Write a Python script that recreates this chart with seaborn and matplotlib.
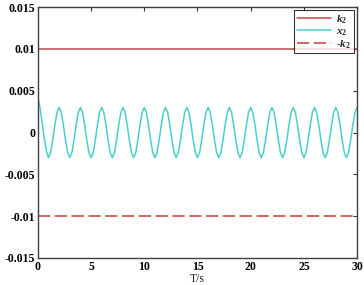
import matplotlib
matplotlib.use('Agg')
import matplotlib.pyplot as plt
import seaborn as sns
import numpy as np
import pandas as pd

sns.set_style("white")
plt.rcParams['font.family'] = ['Liberation Serif', 'DejaVu Serif']
plt.rcParams['mathtext.fontset'] = 'custom'
plt.rcParams['mathtext.it'] = 'Liberation Serif:italic:bold'
plt.rcParams['mathtext.rm'] = 'Liberation Serif:bold'

# time grid, 0.2 s step
t = np.linspace(0, 30, 151)

k2 = 0.01

# x2 values, one row per 2 s cycle
x2 = [
    0.0042, 0.0030, 0.0012, -0.0007, -0.0022, -0.0030, -0.0024, -0.0009, 0.0009, 0.0024,
    0.0030, 0.0024, 0.0009, -0.0009, -0.0024, -0.0030, -0.0024, -0.0009, 0.0009, 0.0024,
    0.0030, 0.0024, 0.0009, -0.0009, -0.0024, -0.0030, -0.0024, -0.0009, 0.0009, 0.0024,
    0.0030, 0.0024, 0.0009, -0.0009, -0.0024, -0.0030, -0.0024, -0.0009, 0.0009, 0.0024,
    0.0030, 0.0024, 0.0009, -0.0009, -0.0024, -0.0030, -0.0024, -0.0009, 0.0009, 0.0024,
    0.0030, 0.0024, 0.0009, -0.0009, -0.0024, -0.0030, -0.0024, -0.0009, 0.0009, 0.0024,
    0.0030, 0.0024, 0.0009, -0.0009, -0.0024, -0.0030, -0.0024, -0.0009, 0.0009, 0.0024,
    0.0030, 0.0024, 0.0009, -0.0009, -0.0024, -0.0030, -0.0024, -0.0009, 0.0009, 0.0024,
    0.0030, 0.0024, 0.0009, -0.0009, -0.0024, -0.0030, -0.0024, -0.0009, 0.0009, 0.0024,
    0.0030, 0.0024, 0.0009, -0.0009, -0.0024, -0.0030, -0.0024, -0.0009, 0.0009, 0.0024,
    0.0030, 0.0024, 0.0009, -0.0009, -0.0024, -0.0030, -0.0024, -0.0009, 0.0009, 0.0024,
    0.0030, 0.0024, 0.0009, -0.0009, -0.0024, -0.0030, -0.0024, -0.0009, 0.0009, 0.0024,
    0.0030, 0.0024, 0.0009, -0.0009, -0.0024, -0.0030, -0.0024, -0.0009, 0.0009, 0.0024,
    0.0030, 0.0024, 0.0009, -0.0009, -0.0024, -0.0030, -0.0024, -0.0009, 0.0009, 0.0024,
    0.0030, 0.0024, 0.0009, -0.0009, -0.0024, -0.0030, -0.0024, -0.0009, 0.0009, 0.0024,
    0.0030,
]

xticks = [0, 5, 10, 15, 20, 25, 30]
yticks = [-0.015, -0.01, -0.005, 0, 0.005, 0.01, 0.015]
ytick_labels = ['-0.015', '-0.01', '-0.005', '0', '0.005', '0.01', '0.015']

df = pd.DataFrame({'t': t, 'x2': x2, 'k2': k2, 'nk2': -k2})

fig = plt.figure(figsize=(3.64, 2.85), dpi=100)
ax = fig.add_axes([0.104, 0.095, 0.877, 0.88])

sns.lineplot(data=df, x='t', y='k2', ax=ax, color='#b84a4a', lw=1.1, label=r'$k_2$')
sns.lineplot(data=df, x='t', y='x2', ax=ax, color='#48d0cc', lw=1.1, label=r'$x_2$')
sns.lineplot(data=df, x='t', y='nk2', ax=ax, color='#c83c3c', lw=1.1,
             linestyle=(0, (8, 3)), label=r'-$k_2$')

ax.set_xlim(0, 30)
ax.set_ylim(-0.015, 0.015)
ax.set_xticks(xticks)
ax.set_xticklabels([str(v) for v in xticks])
ax.set_yticks(yticks)
ax.set_yticklabels(ytick_labels)
ax.set_xlabel('T/s', fontsize=8.5, labelpad=0)
ax.set_ylabel('')
ax.tick_params(direction='in', length=3, width=0.8, top=True, right=True,
               labelsize=8.5, pad=2, colors='#333333', labelcolor='black')
for lab in ax.get_xticklabels() + ax.get_yticklabels():
    lab.set_fontweight('bold')
for sp in ax.spines.values():
    sp.set_color('#404040')
    sp.set_linewidth(1.0)

leg = ax.legend(loc='upper right', fontsize=8, frameon=True, fancybox=False,
                edgecolor='black', handlelength=3.0, borderaxespad=0.3,
                labelspacing=0.05, borderpad=0.25, handletextpad=0.5)
leg.get_frame().set_linewidth(0.8)

fig.savefig('out.png', dpi=100)
